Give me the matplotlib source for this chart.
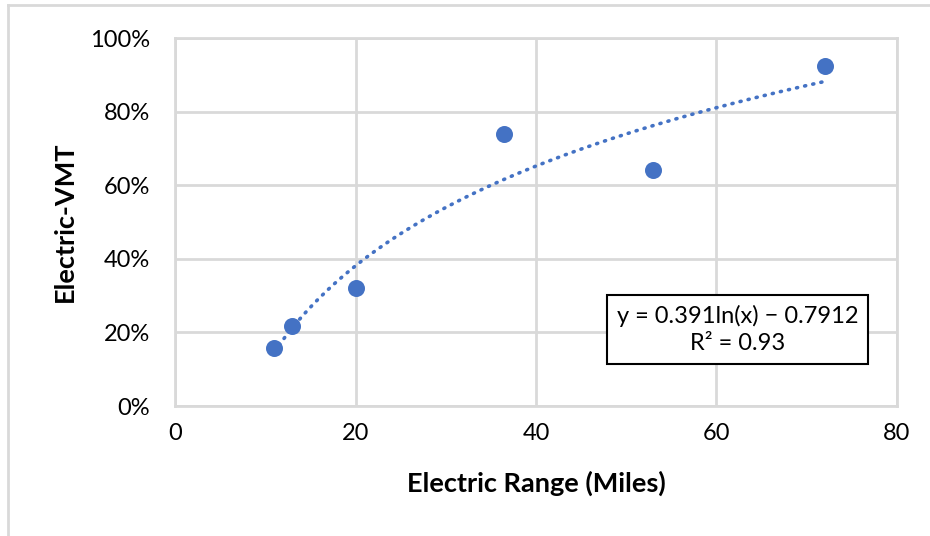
import numpy as np
import matplotlib
matplotlib.use('Agg')
import matplotlib.pyplot as plt
from matplotlib.ticker import PercentFormatter
from matplotlib.lines import Line2D

# electric range (miles) vs share of electric VMT
elec_range = [11, 13, 20, 36.5, 53, 72]
evmt = [0.158, 0.218, 0.321, 0.740, 0.641, 0.923]
eq_text = 'y = 0.391ln(x) \u2212 0.7912\nR\u00b2 = 0.93'

x_ticks = [0, 20, 40, 60, 80]
y_ticks = [0, 0.2, 0.4, 0.6, 0.8, 1.0]

blue = '#4472C4'
grid = '#d9d9d9'
plt.rcParams['font.family'] = ['Lato', 'DejaVu Sans']

fig = plt.figure(figsize=(9.3, 5.36), dpi=100)
ax = fig.add_axes([0.1882, 0.2425, 0.7763, 0.6866])

# log trendline fitted the way excel does it
b, a = np.polyfit(np.log(elec_range), evmt, 1)
xs = np.linspace(min(elec_range), max(elec_range), 200)
ax.plot(xs, a + b*np.log(xs), color=blue, lw=2.6, dashes=(0.3, 2.0),
        dash_capstyle='round', zorder=2)
ax.scatter(elec_range, evmt, s=150, color=blue, zorder=3, lw=0)

ax.set_xlim(0, 80)
ax.set_ylim(0, 1.0)
ax.set_xticks(x_ticks)
ax.set_yticks(y_ticks)
ax.yaxis.set_major_formatter(PercentFormatter(1.0, decimals=0))
ax.grid(True, color=grid, lw=2)
ax.set_axisbelow(True)
for s in ax.spines.values():
    s.set_color(grid)
    s.set_linewidth(2)
ax.tick_params(length=0, labelsize=17, pad=12, colors='#000000')
ax.tick_params(axis='y', pad=18)

ax.set_xlabel('Electric Range (Miles)', fontsize=19.5, fontweight='bold')
ax.set_ylabel('Electric-VMT', fontsize=19.5, fontweight='bold')
ax.xaxis.set_label_coords(0.5, -0.209)
ax.yaxis.set_label_coords(-0.152, 0.5)
ax.xaxis.label.set_va('center')
ax.yaxis.label.set_va('center')

ax.text(0.779, 0.208, eq_text, transform=ax.transAxes, ha='center', va='center',
        fontsize=17, linespacing=1.35,
        bbox=dict(boxstyle='square,pad=0.42', fc='white', ec='black', lw=1.5))

# outer chart border (top and left edges visible)
fig.add_artist(Line2D([8/930, 8/930], [0, 1 - 5/536], color=grid, lw=2))
fig.add_artist(Line2D([8/930, 1], [1 - 5/536, 1 - 5/536], color=grid, lw=2))

fig.savefig('out.png', dpi=100, facecolor='white')
